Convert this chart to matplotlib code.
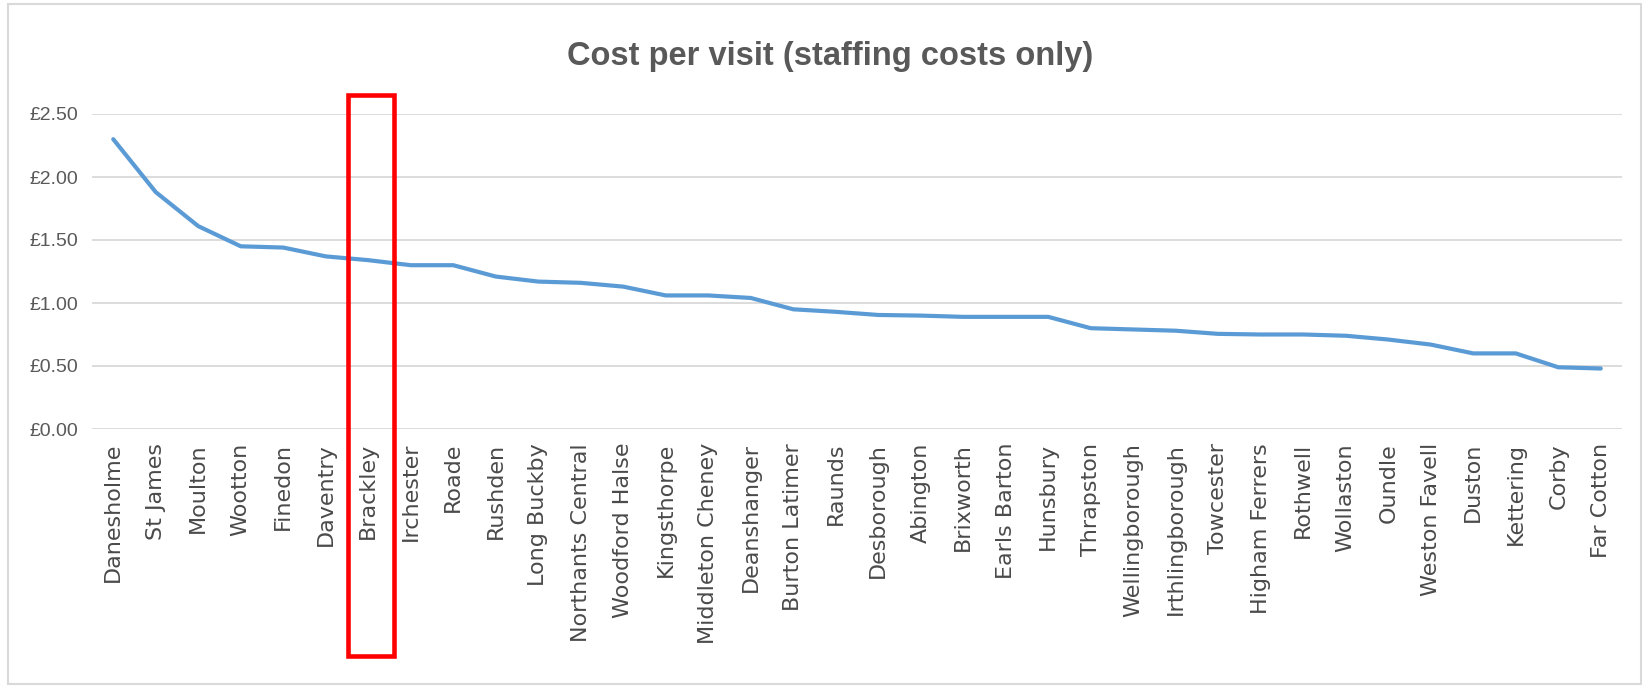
import matplotlib
matplotlib.use("Agg")
import matplotlib.pyplot as plt
from matplotlib.patches import Rectangle
import matplotlib.transforms as mtransforms

categories = ["Danesholme", "St James", "Moulton", "Wootton", "Finedon", "Daventry",
              "Brackley", "Irchester", "Roade", "Rushden", "Long Buckby",
              "Northants Central", "Woodford Halse", "Kingsthorpe", "Middleton Cheney",
              "Deanshanger", "Burton Latimer", "Raunds", "Desborough", "Abington",
              "Brixworth", "Earls Barton", "Hunsbury", "Thrapston", "Wellingborough",
              "Irthlingborough", "Towcester", "Higham Ferrers", "Rothwell", "Wollaston",
              "Oundle", "Weston Favell", "Duston", "Kettering", "Corby", "Far Cotton"]
cost = [2.30, 1.88, 1.61, 1.45, 1.44, 1.37, 1.34, 1.30, 1.30, 1.21, 1.17, 1.16,
        1.13, 1.06, 1.06, 1.04, 0.95, 0.93, 0.905, 0.90, 0.89, 0.89, 0.89, 0.80,
        0.79, 0.78, 0.755, 0.75, 0.75, 0.74, 0.71, 0.67, 0.60, 0.60, 0.49, 0.48]
yticks = [0.0, 0.5, 1.0, 1.5, 2.0, 2.5]
ytick_labels = ["£0.00", "£0.50", "£1.00", "£1.50", "£2.00", "£2.50"]
highlight = "Brackley"

narrow = ["Liberation Sans Narrow", "Liberation Sans", "DejaVu Sans"]
W, H = 1648, 687
fig = plt.figure(figsize=(W / 100, H / 100), dpi=100)
fig.patch.set_facecolor("white")

ax = fig.add_axes([92 / W, 1 - 429 / H, (1622 - 92) / W, (429 - 114) / H])
x = list(range(len(categories)))
ax.plot(x, cost, color="#5b9bd5", lw=3.0, solid_joinstyle="round",
        solid_capstyle="round", zorder=3)
ax.set_xlim(-0.5, len(categories) - 0.5)
ax.set_ylim(0, 2.5)
ax.set_yticks(yticks)
ax.set_yticklabels(ytick_labels, family=narrow, fontsize=14, color="#595959")
ax.set_xticks(x)
ax.set_xticklabels(categories, rotation=90, family="DejaVu Sans", fontsize=16,
                   color="#4a4a4a")
ax.tick_params(axis="both", length=0)
ax.tick_params(axis="x", pad=10)
ax.tick_params(axis="y", pad=10)
ax.grid(axis="y", color="#d9d9d9", lw=1.3)
ax.set_axisbelow(True)
for s in ax.spines.values():
    s.set_visible(False)

fig.text(830 / W, 1 - 56 / H, "Cost per visit (staffing costs only)", ha="center",
         va="center", family=narrow, fontsize=23.5, color="#595959",
         fontweight="semibold")

# highlight box around Brackley
i = categories.index(highlight)
trans = mtransforms.blended_transform_factory(ax.transData, fig.transFigure)
rect = Rectangle((i - 0.48, 1 - 656 / H), 1.08, (656 - 95) / H, transform=trans,
                 fill=False, edgecolor="#ff0000", lw=3.3, clip_on=False, zorder=5)
fig.add_artist(rect)

# outer frame
frame = Rectangle((8 / W, 3 / H), (1641 - 8) / W, (683 - 3) / H,
                  transform=fig.transFigure, fill=False, edgecolor="#d9d9d9", lw=1.5)
fig.add_artist(frame)

fig.savefig("out.png", dpi=100, facecolor="white")
